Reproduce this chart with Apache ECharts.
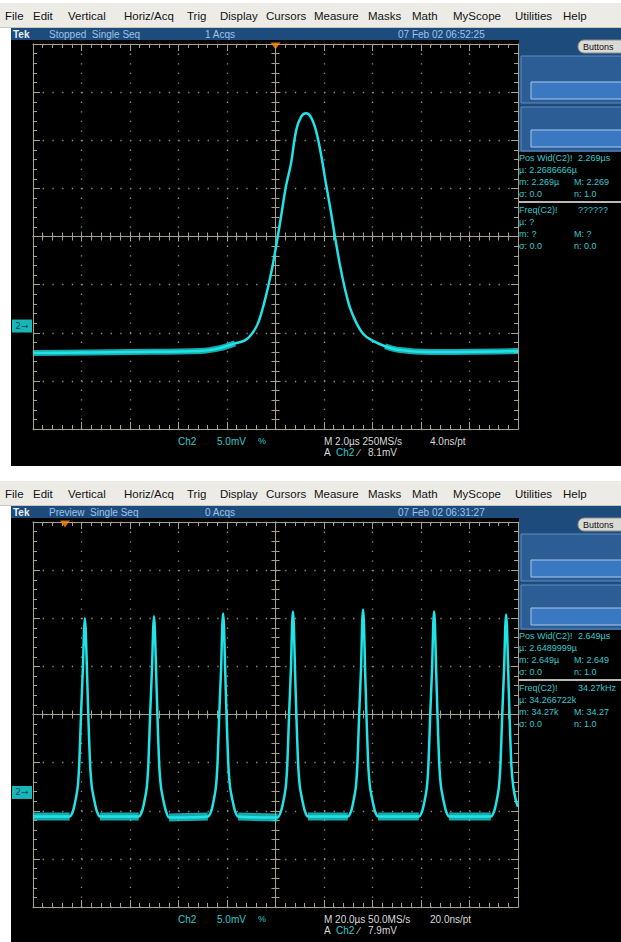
<!DOCTYPE html>
<html><head><meta charset="utf-8">
<script src="https://cdn.jsdelivr.net/npm/echarts@6/dist/echarts.min.js"></script>
<style>html,body{margin:0;padding:0;background:#fff;}#c{width:621px;height:942px;}</style>
</head><body><div id="c"></div>
<script>
// ---------- data ----------
// Top scope: 2.0 us/div, 5.0 mV/div (time in us, volts in mV relative to screen centre)
const topTimeUs = [-10, -6, -3.11, -2.29, -1.67, -1.26, -0.97, -0.72, -0.52, -0.31, -0.14, 0.06, 0.23, 0.43, 0.64, 0.85, 1.05, 1.26, 1.46, 1.67, 1.88, 2.08, 2.29, 2.45, 2.66, 2.87, 3.07, 3.32, 3.61, 3.98, 4.52, 5.13, 6.37, 10];
const topVoltMv = [-12.1, -12.0, -11.9, -11.6, -11.1, -10.8, -10.1, -9.0, -7.4, -5.3, -3.3, -0.5, 2.1, 5.2, 7.6, 11.0, 12.4, 12.8, 12.4, 11.0, 8.5, 5.5, 2.5, 0.0, -3.0, -5.5, -7.4, -8.9, -10.1, -10.8, -11.4, -11.8, -12.0, -11.9];
// centre of the fuzzy noise band on the baseline
const topBandTimeUs = [-10, -6, -3.11, -2.29, -1.67, -1.5, 4.3, 4.52, 5.13, 6.37, 10];
const topBandVoltMv = [-12.1, -12.0, -11.9, -11.6, -11.1, '-', '-', -11.4, -11.8, -12.0, -11.9];

// Bottom scope: 20 us/div, 5.0 mV/div
const bottomTimeUs = [-100,
  -84.9, -83.6, -82.7, -81.6, -80.9, -80.2, -79.4, -78.95, -78.6, -78.25, -77.8, -77.2, -76.5, -75.7, -74.5, -73.6, -72.4,
  -56.4, -55.1, -54.2, -53.1, -52.4, -51.7, -50.9, -50.45, -50.1, -49.75, -49.3, -48.7, -48.0, -47.2, -46.0, -45.1, -43.9,
  -27.9, -26.6, -25.7, -24.6, -23.9, -23.2, -22.4, -21.95, -21.6, -21.25, -20.8, -20.2, -19.5, -18.7, -17.5, -16.6, -15.4,
  0.9, 2.2, 3.1, 4.2, 4.9, 5.6, 6.4, 6.85, 7.2, 7.55, 8.0, 8.6, 9.3, 10.1, 11.3, 12.2, 13.4,
  29.8, 31.1, 32.0, 33.1, 33.8, 34.5, 35.3, 35.75, 36.1, 36.45, 36.9, 37.5, 38.2, 39.0, 40.2, 41.1, 42.3,
  59.1, 60.4, 61.3, 62.4, 63.1, 63.8, 64.6, 65.05, 65.4, 65.75, 66.2, 66.8, 67.5, 68.3, 69.5, 70.4, 71.6,
  88.8, 90.1, 91.0, 92.1, 92.8, 93.5, 94.3, 94.75, 95.1, 95.45, 95.9, 96.5, 97.2, 98.0, 99.2, 100];
const bottomVoltMv = [-10.6,
  -10.6, -10.1, -9.2, -7.6, -5.0, 0.0, 5.0, 8.7, 10.0, 8.7, 5.0, 0.0, -5.0, -7.6, -9.2, -10.1, -10.6,
  -10.6, -10.1, -9.2, -7.6, -5.0, 0.0, 5.0, 8.9, 10.2, 8.9, 5.0, 0.0, -5.0, -7.6, -9.2, -10.1, -10.7,
  -10.6, -10.1, -9.2, -7.6, -5.0, 0.0, 5.0, 9.2, 10.5, 9.2, 5.0, 0.0, -5.0, -7.6, -9.2, -10.1, -10.6,
  -10.7, -10.1, -9.2, -7.6, -5.0, 0.0, 5.0, 9.4, 10.7, 9.4, 5.0, 0.0, -5.0, -7.6, -9.2, -10.1, -10.6,
  -10.6, -10.1, -9.2, -7.6, -5.0, 0.0, 5.0, 9.6, 10.9, 9.6, 5.0, 0.0, -5.0, -7.6, -9.2, -10.1, -10.6,
  -10.6, -10.1, -9.2, -7.6, -5.0, 0.0, 5.0, 9.4, 10.7, 9.4, 5.0, 0.0, -5.0, -7.6, -9.2, -10.1, -10.6,
  -10.6, -10.1, -9.2, -7.6, -5.0, 0.0, 5.0, 9.1, 10.4, 9.1, 5.0, 0.0, -5.0, -7.4, -9.0, -9.6];
const bottomBandTimeUs = [-100, -84.9, -84, -72.4, -56.4, -56, -43.9, -27.9, -27, -15.4, 0.9, 1, 13.4, 29.8, 30, 42.3, 59.1, 60, 71.6, 88.8];
const bottomBandVoltMv = [-10.6, -10.6, '-', -10.6, -10.6, '-', -10.7, -10.6, '-', -10.6, -10.7, '-', -10.6, -10.6, '-', -10.6, -10.6, '-', -10.6, -10.6];

const timeAxis = [[-10, 10, 2], [-100, 100, 20]];   // min, max, per-division
const voltAxis = [-20, 20, 5];
const triggerTimeUs = [0, -86.8];
const groundMv = [-9.3, -8.1];
const triggerLevelMv = [8.1, 7.9];

const menuItems = ['File', 'Edit', 'Vertical', 'Horiz/Acq', 'Trig', 'Display', 'Cursors', 'Measure', 'Masks', 'Math', 'MyScope', 'Utilities', 'Help'];
const menuX = [5, 33, 68, 124, 187, 220, 266, 314, 368, 412, 453, 515, 563];

const scopes = [
  { status: 'Stopped  Single Seq', acqs: '1 Acqs', date: '07 Feb 02 06:52:25',
    scale: 'M 2.0\u00b5s 250MS/s', res: '4.0ns/pt', trig: '8.1mV',
    meas: [['Pos Wid(C2)!', '2.269\u00b5s'], ['\u00b5: 2.2686666\u00b5', ''], ['m: 2.269\u00b5', 'M: 2.269'], ['\u03c3: 0.0', 'n: 1.0'],
           ['Freq(C2)!', '??????'], ['\u00b5: ?', ''], ['m: ?', 'M: ?'], ['\u03c3: 0.0', 'n: 0.0']] },
  { status: 'Preview  Single Seq', acqs: '0 Acqs', date: '07 Feb 02 06:31:27',
    scale: 'M 20.0\u00b5s 50.0MS/s', res: '20.0ns/pt', trig: '7.9mV',
    meas: [['Pos Wid(C2)!', '2.649\u00b5s'], ['\u00b5: 2.6489999\u00b5', ''], ['m: 2.649\u00b5', 'M: 2.649'], ['\u03c3: 0.0', 'n: 1.0'],
           ['Freq(C2)!', '34.27kHz'], ['\u00b5: 34.266722k', ''], ['m: 34.27k', 'M: 34.27'], ['\u03c3: 0.0', 'n: 1.0']] }
];

// ---------- styling ----------
const CYAN = '#1fe3e6';
const TXTC = '#33c9cc';
const GR = '#a7a189';
const DOT = '#8e8e86';
const BLUE = '#1d4b7b';
const FONT = '"Liberation Sans", Arial, sans-serif';
const OFFS = [0, 478];

const grids = OFFS.map(dy => ({ left: 33, top: 44 + dy, width: 485, height: 385, show: false, outerBoundsMode: 'none' }));

const xAxes = [], yAxes = [];
OFFS.forEach((dy, g) => {
  const [mn, mx, st] = timeAxis[g];
  const bx = {gridIndex: g, type: 'value', min: mn, max: mx, interval: st, axisLabel: {show: false}, splitLine: {show: false}, silent: true, axisPointer: {show: false}};
  const by = {gridIndex: g, type: 'value', min: voltAxis[0], max: voltAxis[1], interval: voltAxis[2], axisLabel: {show: false}, splitLine: {show: false}, silent: true, axisPointer: {show: false}};
  const line = (onZero, idx) => ({show: true, onZero, onZeroAxisIndex: idx, lineStyle: {color: GR, width: 1}});
  const tick = (inside, len) => ({show: true, inside, length: len, lineStyle: {color: GR, width: 1}});
  const minor = (len) => ({show: true, splitNumber: 5, length: len, lineStyle: {color: GR, width: 1}});
  const yi = 4 * g, xi = 4 * g;
  xAxes.push(
    Object.assign({}, bx, {position: 'bottom', axisLine: line(false), axisTick: tick(true, 7), minorTick: minor(4),
      splitLine: {show: true, lineStyle: {color: DOT, width: 1.3, type: [1.3, 8.3]}}}),
    Object.assign({}, bx, {position: 'top', axisLine: line(false), axisTick: tick(true, 7), minorTick: minor(4)}),
    Object.assign({}, bx, {position: 'bottom', axisLine: line(true, yi), axisTick: tick(true, 5), minorTick: minor(4)}),
    Object.assign({}, bx, {position: 'bottom', axisLine: line(true, yi), axisTick: tick(false, 5), minorTick: minor(4)})
  );
  yAxes.push(
    Object.assign({}, by, {position: 'left', axisLine: line(false), axisTick: tick(true, 7), minorTick: minor(4),
      splitLine: {show: true, lineStyle: {color: DOT, width: 1.3, type: [1.3, 8.4]}}}),
    Object.assign({}, by, {position: 'right', axisLine: line(false), axisTick: tick(true, 7), minorTick: minor(4)}),
    Object.assign({}, by, {position: 'left', axisLine: line(true, xi), axisTick: tick(true, 5), minorTick: minor(4)}),
    Object.assign({}, by, {position: 'left', axisLine: line(true, xi), axisTick: tick(false, 5), minorTick: minor(4)})
  );
});

const zip = (a, b) => a.map((v, i) => [v, b[i]]);
const traces = [[topTimeUs, topVoltMv, topBandTimeUs, topBandVoltMv, 6, 0.35], [bottomTimeUs, bottomVoltMv, bottomBandTimeUs, bottomBandVoltMv, 8, 0.2]];
const series = [];
traces.forEach(([t, v, bt, bv, bw, sm], g) => {
  series.push({type: 'line', xAxisIndex: 4 * g, yAxisIndex: 4 * g, data: zip(bt, bv), showSymbol: false, silent: true,
    smooth: sm, lineStyle: {color: CYAN, width: bw, opacity: 0.75}, connectNulls: false, z: 5});
  series.push({type: 'line', xAxisIndex: 4 * g, yAxisIndex: 4 * g, data: zip(t, v), showSymbol: false, silent: true,
    smooth: sm, lineStyle: {color: CYAN, width: 2.5}, z: 6});
  // trigger position marker (orange triangle on top edge)
  series.push({type: 'scatter', xAxisIndex: 4 * g, yAxisIndex: 4 * g, clip: false, silent: true, z: 8,
    data: [[triggerTimeUs[g], voltAxis[1]]], symbol: 'triangle', symbolRotate: 180, symbolSize: [10, 7], symbolOffset: [0, 2],
    itemStyle: {color: '#ff8a00'}});
  // ground reference marker "2→"
  series.push({type: 'scatter', xAxisIndex: 4 * g, yAxisIndex: 4 * g, clip: false, silent: true, z: 8,
    data: [[timeAxis[g][0], groundMv[g]]], symbol: 'rect', symbolSize: [20, 13], symbolOffset: [-11, 0],
    itemStyle: {color: CYAN},
    label: {show: true, position: 'inside', formatter: '2\u2192', color: '#0b2a4a', fontSize: 9, fontFamily: 'DejaVu Sans'}});
  // trigger level arrow on right edge
  series.push({type: 'scatter', xAxisIndex: 4 * g, yAxisIndex: 4 * g, clip: false, silent: true, z: 8,
    data: [[timeAxis[g][1], groundMv[g] + triggerLevelMv[g]]], symbolSize: 1, itemStyle: {opacity: 0},
    label: {show: true, position: 'left', distance: 0, formatter: '\u2190', color: CYAN, fontSize: 12, fontWeight: 'bold', fontFamily: 'DejaVu Sans'}});
});

// ---------- instrument chrome ----------
const els = [];
const txt = (text, x, y, fill, size, bold) => els.push({type: 'text', x, y, z: 50,
  style: {text, fill, font: (bold ? 'bold ' : '') + size + 'px ' + FONT, verticalAlign: 'middle', align: 'left'}});
const rect = (x, y, w, h, fill, z, stroke, r) => els.push({type: 'rect', z: z == null ? -10 : z,
  shape: {x, y, width: w, height: h, r: r || 0}, style: {fill, stroke: stroke || null, lineWidth: stroke ? 1 : 0}});

OFFS.forEach((dy, g) => {
  const s = scopes[g];
  rect(0, dy + 3, 621, 25, '#ecebe6');
  rect(0, dy + 27, 621, 1, '#c9c7c0');
  menuItems.forEach((m, i) => txt(m, menuX[i], dy + 16, '#141414', 11.5));
  rect(11, dy + 40, 610, g === 0 ? 426 : 424, '#000000');
  rect(11, dy + 28, 610, 12, BLUE);
  rect(519, dy + 40, 102, 112, BLUE);
  txt('Tek', 13, dy + 34, '#e8f0f8', 10, true);
  txt(s.status, 49, dy + 34, '#9fc3e6', 10);
  txt(s.acqs, 205, dy + 34, '#9fc3e6', 10);
  txt(s.date, 398, dy + 34, '#9fc3e6', 10);
  // Buttons
  rect(578, dy + 40, 50, 13, '#d9d9d6', -5, '#8d8d8d', 6);
  txt('Buttons', 583, dy + 47, '#111', 9);
  // two blank boxes
  rect(521, dy + 56, 102, 47, '#2c5e95', -5, '#5f8cc0');
  rect(531, dy + 82, 92, 17, '#3a78c1', -4, '#a9c8ec');
  rect(521, dy + 107, 102, 44, '#2c5e95', -5, '#5f8cc0');
  rect(531, dy + 130, 92, 17, '#3a78c1', -4, '#a9c8ec');
  // measurements
  const rows = [158, 170, 182, 194, 210, 222, 234, 246];
  s.meas.forEach(([a, b], i) => {
    txt(a, 519, dy + rows[i], TXTC, 9);
    if (b) txt(b, i === 0 || i === 4 ? 578 : 574, dy + rows[i], TXTC, 9);
  });
  rect(519, dy + 201, 102, 2, '#b9b9b9', -4);
  // bottom readouts
  txt('Ch2', 178, dy + 441, TXTC, 10);
  txt('5.0mV', 217, dy + 441, TXTC, 10);
  txt('%', 258, dy + 441, TXTC, 9);
  txt(s.scale, 324, dy + 441, '#d8d8d8', 10);
  txt(s.res, 430, dy + 441, '#d8d8d8', 10);
  txt('A', 324, dy + 452, '#d8d8d8', 10);
  txt('Ch2', 336, dy + 452, TXTC, 10);
  txt('\u2215', 358, dy + 452, '#d8d8d8', 10);
  txt(s.trig, 368, dy + 452, '#d8d8d8', 10);
});

const chart = echarts.init(document.getElementById('c'), null, {renderer: 'svg', width: 621, height: 942});
chart.setOption({
  animation: false,
  backgroundColor: '#ffffff',
  grid: grids,
  xAxis: xAxes,
  yAxis: yAxes,
  series,
  graphic: {elements: els}
});
</script></body></html>
